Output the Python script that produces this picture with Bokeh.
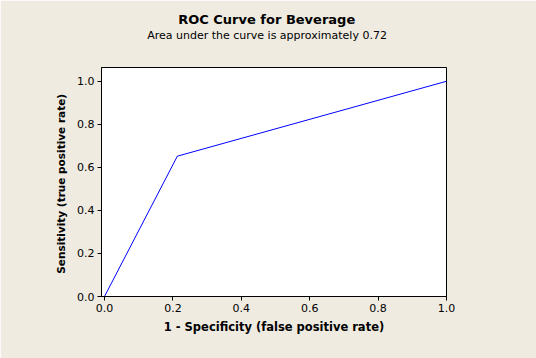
from bokeh.plotting import figure
from bokeh.models import Range1d, FixedTicker, Title, NumeralTickFormatter
from bokeh.embed import file_html
from bokeh.resources import INLINE

# Data: ROC curve points
fpr = [0.0, 0.213, 1.0]
tpr = [0.0, 0.652, 1.0]
x_ticks = [0.0, 0.2, 0.4, 0.6, 0.8, 1.0]
y_ticks = [0.0, 0.2, 0.4, 0.6, 0.8, 1.0]
main_title = "ROC Curve for Beverage"
sub_title = "Area under the curve is approximately 0.72"
x_label = "1 - Specificity (false positive rate)"
y_label = "Sensitivity  (true positive rate)"

BG = "#EFEBE1"
FONT = "DejaVu Sans"

p = figure(width=536, height=358, output_backend="svg", toolbar_location=None,
           x_range=Range1d(-0.0088, 1.0), y_range=Range1d(0.0, 1.064),
           min_border_left=101, min_border_right=90, min_border_top=67, min_border_bottom=62)
p.background_fill_color = "white"
p.border_fill_color = BG
p.outline_line_color = "black"
p.outline_line_width = 1
p.grid.visible = False
p.title.visible = False

p.line(fpr, tpr, line_color="blue", line_width=1)

sub = Title(text=sub_title, align="left", offset=45.7, text_font=FONT, text_font_size="11px",
            text_font_style="normal", text_color="black", standoff=52)
p.add_layout(sub, "above")
main = Title(text=main_title, align="left", offset=76.7, text_font=FONT, text_font_size="13px",
             text_font_style="bold", text_color="black", standoff=-52)
p.add_layout(main, "above")

for ax in (p.xaxis[0], p.yaxis[0]):
    ax.axis_line_color = "black"
    ax.major_tick_line_color = "black"
    ax.major_tick_out = 4
    ax.major_tick_in = 0
    ax.minor_tick_line_color = None
    ax.major_label_text_font = FONT
    ax.major_label_text_font_size = "11px"
    ax.major_label_text_color = "black"
    ax.axis_label_text_font = FONT
    ax.axis_label_text_font_style = "bold"
    ax.axis_label_text_color = "black"
    ax.formatter = NumeralTickFormatter(format="0.0")

p.xaxis[0].axis_label_text_font_size = "11.5px"
p.yaxis[0].axis_label_text_font_size = "10.5px"
p.xaxis[0].ticker = FixedTicker(ticks=x_ticks)
p.yaxis[0].ticker = FixedTicker(ticks=y_ticks)
p.xaxis[0].axis_label = x_label
p.yaxis[0].axis_label = y_label
p.xaxis[0].major_label_standoff = 3
p.yaxis[0].major_label_standoff = 3
p.xaxis[0].axis_label_standoff = 5
p.yaxis[0].axis_label_standoff = 7

open("out.html", "w").write(file_html(p, INLINE))
